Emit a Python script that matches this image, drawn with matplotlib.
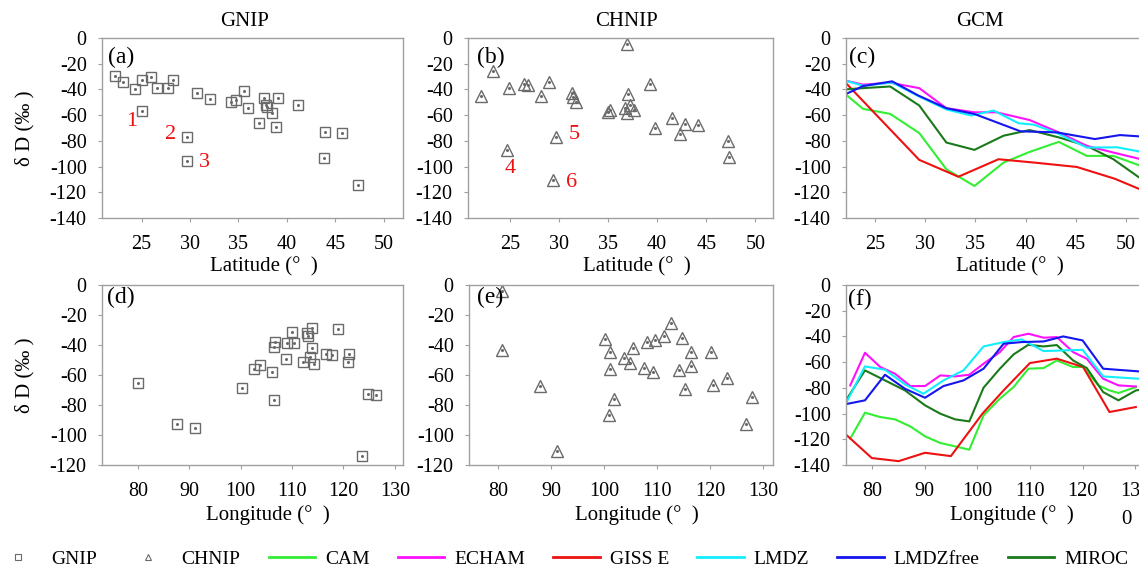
import numpy as np
import matplotlib.pyplot as plt
from matplotlib.lines import Line2D

plt.rcParams['font.family'] = ['Liberation Serif', 'DejaVu Serif']
plt.rcParams['axes.unicode_minus'] = False

# station data: GNIP (squares) and CHNIP (triangles)
gnip_lat = [22.2, 23.1, 24.3, 25.0, 25.0, 26.0, 26.6, 27.7, 28.2, 29.7, 29.7, 30.7,
            32.1, 34.2, 34.7, 35.6, 36.0, 37.1, 37.6, 37.8, 37.9, 38.5, 38.9, 39.1,
            41.1, 43.9, 43.8, 45.7, 47.4]
gnip_dd_lat = [-29.7, -34.4, -39.5, -32.8, -56.6, -30.2, -38.5, -38.5, -32.8, -76.7,
               -95.8, -42.9, -47.8, -50.1, -48.3, -41.6, -54.2, -66.1, -47.0, -51.9,
               -53.5, -58.6, -69.5, -47.0, -51.9, -73.1, -93.5, -74.1, -114.4]

chnip_lat = [22.1, 23.3, 24.9, 24.7, 26.5, 26.9, 28.2, 29.0, 29.7, 29.4, 31.3, 31.4,
             31.7, 35.0, 35.2, 36.9, 37.0, 36.7, 36.9, 37.2, 37.6, 39.3, 39.8, 41.5,
             42.3, 42.8, 44.2, 47.2, 47.3]
chnip_dd_lat = [-44.9, -25.8, -38.7, -86.8, -35.4, -36.9, -44.9, -34.6, -76.7, -110.8,
                -42.4, -45.5, -49.6, -57.3, -56.1, -4.4, -43.9, -54.8, -58.6, -52.2,
                -56.1, -35.9, -69.7, -62.5, -74.7, -67.2, -67.7, -79.8, -92.7]

gnip_lon = [80.0, 87.6, 91.1, 100.3, 102.5, 103.8, 106.1, 106.4, 106.5, 106.7, 108.8,
            109.0, 109.9, 110.3, 112.2, 112.9, 113.1, 113.4, 113.8, 113.8, 114.2, 116.7,
            117.8, 119.0, 120.8, 121.0, 123.6, 124.8, 126.3]
gnip_dd_lon = [-65.6, -92.7, -95.1, -68.9, -55.8, -53.6, -58.0, -76.7, -41.1, -37.8,
               -49.1, -38.4, -31.3, -38.4, -51.1, -31.8, -33.8, -47.8, -28.7, -42.0,
               -52.7, -46.2, -46.9, -29.3, -51.3, -46.2, -113.8, -72.4, -73.6]

chnip_lon = [80.8, 80.8, 87.9, 91.2, 100.2, 101.1, 101.2, 100.9, 101.9, 103.8, 104.9,
             105.4, 107.5, 108.2, 109.3, 109.6, 111.4, 112.6, 114.2, 114.8, 115.2, 116.4,
             116.4, 120.2, 120.5, 123.2, 126.8, 128.0]
chnip_dd_lon = [-3.8, -43.3, -67.3, -110.7, -35.8, -44.4, -56.0, -86.9, -76.0, -48.9,
                -52.2, -42.2, -55.3, -38.2, -57.8, -36.4, -34.2, -25.6, -56.9, -35.1,
                -69.1, -44.4, -53.8, -44.4, -66.9, -62.2, -92.4, -74.4]

# GCM zonal / meridional profiles
models = ['CAM', 'ECHAM', 'GISS E', 'LMDZ', 'LMDZfree', 'MIROC']
colors = ['#33ee33', '#ff11ff', '#ee1111', '#11eeff', '#1515ee', '#1a7a1a']

cam_lat = [22.0, 23.8, 26.5, 29.4, 32.1, 34.9, 37.8, 40.4, 43.3, 46.1, 48.75, 51.5]
cam_dd_lat = [-43.4, -55.1, -59.0, -73.9, -102.1, -115.1, -96.9, -88.6, -80.8, -91.7, -91.7, -99.5]
echam_lat = [22.0, 23.8, 26.5, 29.4, 32.1, 34.9, 37.1, 40.4, 43.3, 46.1, 48.75, 51.5]
echam_dd_lat = [-33.0, -36.3, -34.8, -39.0, -54.6, -57.8, -57.8, -63.8, -73.4, -83.9, -89.1, -94.3]
giss_lat = [22.0, 29.4, 33.3, 37.3, 41.0, 45.1, 48.9, 51.5]
giss_dd_lat = [-34.3, -94.8, -107.9, -94.3, -97.0, -100.3, -109.5, -118.0]
lmdz_lat = [22.0, 23.8, 26.7, 29.3, 32.1, 34.6, 36.8, 39.3, 40.8, 43.1, 46.1, 49.1, 51.5]
lmdz_dd_lat = [-33.0, -37.2, -34.6, -45.2, -55.6, -60.3, -56.4, -66.3, -67.4, -73.9, -85.2, -85.0, -88.5]
lmdzf_lat = [22.0, 23.8, 26.7, 29.3, 32.1, 34.9, 39.5, 43.1, 46.9, 49.4, 51.5]
lmdzf_dd_lat = [-43.9, -37.4, -33.7, -44.7, -54.6, -59.1, -72.6, -73.4, -78.6, -75.5, -76.6]
miroc_lat = [22.0, 23.8, 26.5, 29.4, 32.1, 34.9, 37.8, 40.4, 43.3, 46.1, 48.75, 51.5]
miroc_dd_lat = [-40.0, -39.0, -37.7, -52.5, -81.3, -87.0, -76.0, -71.6, -77.3, -83.9, -94.3, -109.5]

cam_lon = [75.9, 78.7, 81.6, 84.4, 87.3, 90.1, 93.0, 95.8, 98.5, 101.2, 104.3, 106.9,
           109.7, 112.6, 115.1, 118.2, 120.1, 123.0, 125.1, 126.8, 130.1]
cam_dd_lon = [-119.5, -99.3, -102.7, -104.5, -110.0, -117.7, -122.9, -125.5, -128.1, -101.4,
              -88.4, -79.4, -65.1, -64.6, -58.7, -63.8, -63.8, -78.1, -82.0, -84.0, -79.4]
echam_lon = [75.9, 78.7, 81.6, 84.4, 87.3, 90.1, 93.0, 95.8, 98.5, 101.2, 104.3, 106.9,
             109.7, 112.6, 115.1, 118.2, 120.8, 123.9, 126.8, 130.1]
echam_dd_lon = [-78.1, -52.7, -63.8, -69.0, -78.6, -78.6, -70.3, -71.1, -69.8, -61.2,
                -52.2, -40.5, -37.9, -41.0, -40.5, -52.2, -57.4, -72.9, -78.1, -78.9]
giss_lon = [74.9, 80.0, 85.1, 90.1, 95.0, 101.0, 105.0, 110.0, 115.1, 120.1, 125.1, 130.1]
giss_dd_lon = [-115.6, -134.6, -137.0, -130.5, -133.1, -100.0, -82.0, -60.7, -57.3, -63.8, -98.8, -94.9]
lmdz_lon = [74.9, 78.7, 82.5, 86.3, 89.8, 93.6, 97.4, 101.2, 105.0, 108.4, 112.6, 116.3,
            120.0, 123.9, 131.0]
lmdz_dd_lon = [-93.6, -63.3, -65.9, -77.3, -84.6, -74.2, -66.4, -47.8, -44.4, -42.3, -51.4,
               -50.9, -50.4, -71.1, -73.0]
lmdzf_lon = [74.9, 78.7, 82.5, 86.3, 90.1, 93.6, 97.4, 101.2, 105.0, 108.4, 112.6, 116.3,
             120.0, 123.9, 131.0]
lmdzf_dd_lon = [-92.8, -89.7, -69.8, -80.7, -87.7, -78.6, -74.2, -65.1, -45.7, -44.4, -43.9,
                -40.0, -43.1, -65.1, -67.3]
miroc_lon = [74.9, 78.7, 82.5, 86.3, 90.1, 93.0, 95.8, 98.5, 101.2, 104.3, 106.9, 109.7,
             112.6, 115.1, 118.2, 120.8, 123.9, 126.8, 130.1, 131.0]
miroc_dd_lon = [-91.0, -66.4, -74.2, -82.0, -93.6, -100.1, -104.5, -106.1, -79.9, -65.1,
                -54.0, -46.5, -47.8, -46.7, -58.7, -64.6, -83.3, -89.7, -82.0, -81.5]

lat_profiles = [(cam_lat, cam_dd_lat), (echam_lat, echam_dd_lat), (giss_lat, giss_dd_lat),
                (lmdz_lat, lmdz_dd_lat), (lmdzf_lat, lmdzf_dd_lat), (miroc_lat, miroc_dd_lat)]
lon_profiles = [(cam_lon, cam_dd_lon), (echam_lon, echam_dd_lon), (giss_lon, giss_dd_lon),
                (lmdz_lon, lmdz_dd_lon), (lmdzf_lon, lmdzf_dd_lon), (miroc_lon, miroc_dd_lon)]

W, H = 1139, 568
fig = plt.figure(figsize=(W / 100, H / 100), dpi=100)


def px_axes(x0, y0, x1, y1):
    return fig.add_axes([x0 / W, 1 - y1 / H, (x1 - x0) / W, (y1 - y0) / H])


def style(ax, xlim, ylim, xticks, yticks, hide_right=False):
    ax.set_xlim(*xlim)
    ax.set_ylim(*ylim)
    ax.set_xticks(xticks)
    ax.set_yticks(yticks)
    for s in ax.spines.values():
        s.set_color('#a0a0a0')
        s.set_linewidth(1.0)
    if hide_right:
        ax.spines['right'].set_visible(False)
    ax.tick_params(axis='x', direction='out', length=3, color='#a0a0a0', pad=9, labelsize=14.5)
    ax.tick_params(axis='y', direction='out', length=3, color='#a0a0a0', pad=8, labelsize=14.5)


gray = '#6a6a6a'


def scatter(ax, x, y, marker, ms):
    ax.plot(x, y, linestyle='none', marker=marker, ms=ms, mfc='none', mec=gray, mew=1.0)
    ax.plot(x, y, linestyle='none', marker='o', ms=1.2, color=gray)


lat_ticks = [25, 30, 35, 40, 45, 50]
lon_ticks = [80, 90, 100, 110, 120, 130]
y140 = list(range(-140, 1, 20))
y120 = list(range(-120, 1, 20))

ax_a = px_axes(102, 38, 403, 218)
ax_b = px_axes(468, 38, 773, 218)
ax_c = px_axes(846, 38, 1139, 218)
ax_d = px_axes(102, 285, 403, 465)
ax_e = px_axes(469, 285, 773, 465)
ax_f = px_axes(846, 285, 1139, 465)

style(ax_a, (20.9, 52.0), (-140, 0), lat_ticks, y140)
style(ax_b, (20.75, 51.8), (-140, 0), lat_ticks, y140)
style(ax_c, (22.1, 51.3), (-140, 0), lat_ticks, y140, hide_right=True)
style(ax_d, (73.0, 131.6), (-120, 0), lon_ticks, y120)
style(ax_e, (74.5, 131.9), (-120, 0), lon_ticks, y120)
style(ax_f, (75.1, 130.7), (-140, 0), lon_ticks, y140, hide_right=True)

scatter(ax_a, gnip_lat, gnip_dd_lat, 's', 7.5)
scatter(ax_b, chnip_lat, chnip_dd_lat, '^', 8.5)
scatter(ax_d, gnip_lon, gnip_dd_lon, 's', 7.5)
scatter(ax_e, chnip_lon, chnip_dd_lon, '^', 8.5)

draw_order = [0, 2, 5, 1, 3, 4]
for i in draw_order:
    ax_c.plot(*lat_profiles[i], color=colors[i], lw=1.5)
    ax_f.plot(*lon_profiles[i], color=colors[i], lw=1.5)

# numbered stations
for ax, labs in [(ax_a, [('1', 24.0, -65.1), ('2', 28.0, -75.4), ('3', 31.5, -96.9)]),
                 (ax_b, [('5', 31.6, -75.4), ('4', 25.0, -101.3), ('6', 31.3, -112.4)])]:
    for t, x, y in labs:
        ax.text(x, y, t, color='#ee1111', fontsize=16, ha='center', va='center')

# panel letters
for ax, t, x, y in [(ax_a, '(a)', 0.02, 0.894), (ax_b, '(b)', 0.03, 0.894),
                    (ax_c, '(c)', 0.01, 0.894), (ax_d, '(d)', 0.017, 0.933),
                    (ax_e, '(e)', 0.025, 0.933), (ax_f, '(f)', 0.008, 0.917)]:
    ax.text(x, y, t, transform=ax.transAxes, fontsize=17, ha='left', va='center')


def ftext(x, y, s, **kw):
    fig.text(x / W, 1 - y / H, s, ha='center', va='center', fontsize=15, **kw)


ftext(245, 22, 'GNIP')
ftext(626, 22, 'CHNIP')
ftext(980, 22, 'GCM')
for x in (264, 637, 1010):
    ftext(x, 267, 'Latitude (°  )')
for x in (268, 637, 1012):
    ftext(x, 515, 'Longitude (°  )')
ftext(25, 128, 'δ D (‰ )', rotation=90)
ftext(25, 375, 'δ D (‰ )', rotation=90)
ftext(1126, 519, '0')

handles = [Line2D([], [], ls='none', marker='s', ms=4, mfc='none', mec=gray, mew=0.8),
           Line2D([], [], ls='none', marker='^', ms=4.5, mfc='none', mec=gray, mew=0.8)]
handles += [Line2D([], [], color=c, lw=2) for c in colors]
fig.legend(handles, ['GNIP', 'CHNIP'] + models, loc='center', ncol=8,
           bbox_to_anchor=(0.493, 1 - 559 / H), frameon=False, fontsize=14,
           handlelength=2.4, handletextpad=0.5, columnspacing=1.45)

fig.savefig('out.png', dpi=100)
